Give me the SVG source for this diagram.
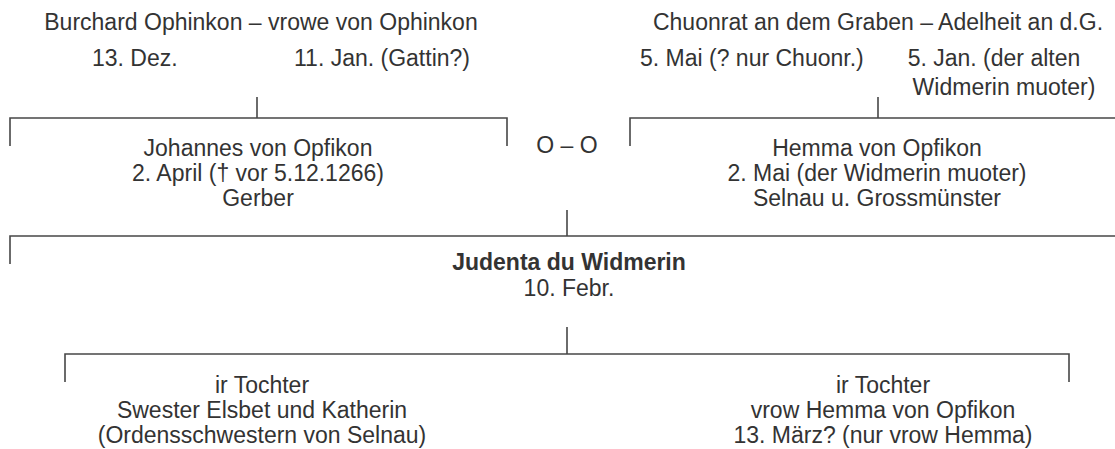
<svg xmlns="http://www.w3.org/2000/svg" width="1115" height="449" viewBox="0 0 1115 449">
  <style>
    text { font-family: "Liberation Sans", Arial, Helvetica, sans-serif; font-size: 23px; fill: #333333; }
    .m { text-anchor: middle; }
    .b { font-weight: bold; }
    .line { fill: none; stroke: #474747; stroke-width: 1.6; }
  </style>
  <rect width="1115" height="449" fill="#ffffff"/>

  <!-- family brackets and descent lines -->
  <g id="connectors" class="line">
    <path d="M257 97 V118"/>
    <path d="M10 146 V118 H507 V146"/>
    <path d="M878 97 V118"/>
    <path d="M630 146 V118 H1115"/>
    <path d="M567 210 V236"/>
    <path d="M10 264 V236 H1115"/>
    <path d="M567 327 V354"/>
    <path d="M65 382 V354 H1069 V382"/>
  </g>

  <g id="burchard-ophinkon">
    <text x="261" y="30" class="m">Burchard Ophinkon – vrowe von Ophinkon</text>
    <text x="92" y="66">13. Dez.</text>
    <text x="294" y="66">11. Jan. (Gattin?)</text>
  </g>

  <g id="chuonrat-graben">
    <text x="878" y="30" class="m">Chuonrat an dem Graben – Adelheit an d.G.</text>
    <text x="640" y="66">5. Mai (? nur Chuonr.)</text>
    <text x="994" y="66" class="m">5. Jan. (der alten</text>
    <text x="1004" y="95" class="m">Widmerin muoter)</text>
  </g>

  <g id="johannes">
    <text x="258" y="156" class="m">Johannes von Opfikon</text>
    <text x="258" y="181" class="m">2. April († vor 5.12.1266)</text>
    <text x="258" y="206" class="m">Gerber</text>
  </g>

  <g id="marriage">
    <text x="567" y="153" class="m">O – O</text>
  </g>

  <g id="hemma">
    <text x="877" y="156" class="m">Hemma von Opfikon</text>
    <text x="877" y="181" class="m">2. Mai (der Widmerin muoter)</text>
    <text x="877" y="206" class="m">Selnau u. Grossmünster</text>
  </g>

  <g id="judenta">
    <text x="569" y="270" class="m b">Judenta du Widmerin</text>
    <text x="569" y="296" class="m">10. Febr.</text>
  </g>

  <g id="tochter-elsbet-katherin">
    <text x="262" y="393" class="m">ir Tochter</text>
    <text x="262" y="418" class="m">Swester Elsbet und Katherin</text>
    <text x="262" y="443" class="m">(Ordensschwestern von Selnau)</text>
  </g>

  <g id="tochter-hemma">
    <text x="883" y="393" class="m">ir Tochter</text>
    <text x="883" y="418" class="m">vrow Hemma von Opfikon</text>
    <text x="883" y="443" class="m">13. März? (nur vrow Hemma)</text>
  </g>
</svg>
